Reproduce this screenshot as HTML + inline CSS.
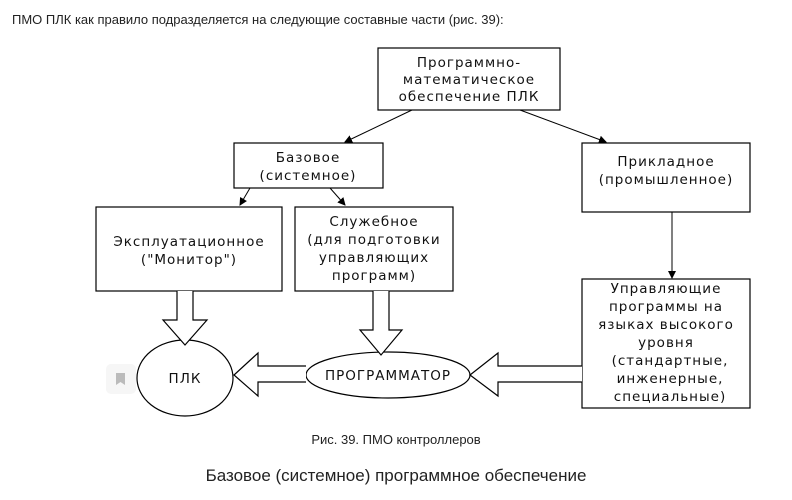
<!DOCTYPE html>
<html><head><meta charset="utf-8"><style>
body{margin:0;width:792px;height:500px;background:#fff;overflow:hidden;font-family:"Liberation Sans",sans-serif;}
.t{position:absolute;color:#222;}
</style></head><body>
<div class="t" style="left:12px;top:12px;font-size:13px;">ПМО ПЛК как правило подразделяется на следующие составные части (рис. 39):</div>
<svg width="792" height="500" style="position:absolute;left:0;top:0" font-family="DejaVu Sans, sans-serif" font-size="13.5" letter-spacing="1">
<defs><marker id="a" markerWidth="8" markerHeight="8" refX="7" refY="4" orient="auto"><path d="M0,0 L8,4 L0,8 z" fill="#000"/></marker></defs>
<g fill="#fff" stroke="#000" stroke-width="1.2">
<rect x="378" y="48" width="182" height="62"/>
<rect x="234" y="143" width="149" height="45"/>
<rect x="582" y="143" width="168" height="69"/>
<rect x="96" y="207" width="186" height="84"/>
<rect x="295" y="207" width="158" height="84"/>
<rect x="582" y="279" width="168" height="129"/>
<ellipse cx="185" cy="378" rx="48" ry="38"/>
<ellipse cx="388" cy="375" rx="82" ry="23"/>
<path d="M177,291 V320 H163 L185,345 L207,320 H193 V291"/>
<path d="M373,291 V330 H360 L381,355 L402,330 H389 V291"/>
<path d="M582,366 H498 V353 L470,375 L498,396 V382 H582"/>
<path d="M306,366 H258 V353 L234,375 L258,396 V382 H306"/>
</g>
<g stroke="#000" stroke-width="1" marker-end="url(#a)">
<line x1="412" y1="110" x2="345" y2="142"/>
<line x1="520" y1="110" x2="606" y2="142"/>
<line x1="250" y1="188" x2="240" y2="205"/>
<line x1="330" y1="188" x2="345" y2="205"/>
<line x1="672" y1="212" x2="672" y2="278"/>
</g>
<rect x="106" y="364" width="30" height="30" rx="5" fill="#f6f6f6"/>
<path d="M116,373 h9 v12 l-4.5,-3 l-4.5,3 z" fill="#bbb"/>
<g text-anchor="middle" fill="#111">
<text x="469" y="67">Программно-</text>
<text x="469" y="84">математическое</text>
<text x="469" y="101">обеспечение ПЛК</text>
<text x="308" y="162">Базовое</text>
<text x="308" y="180">(системное)</text>
<text x="666" y="166">Прикладное</text>
<text x="666" y="184">(промышленное)</text>
<text x="189" y="246">Эксплуатационное</text>
<text x="189" y="264">("Монитор")</text>
<text x="374" y="226">Служебное</text>
<text x="374" y="244">(для подготовки</text>
<text x="374" y="262">управляющих</text>
<text x="374" y="280">программ)</text>
<text x="666" y="293">Управляющие</text>
<text x="666" y="311">программы на</text>
<text x="666" y="329">языках высокого</text>
<text x="666" y="347">уровня</text>
<text x="670" y="365">(стандартные,</text>
<text x="670" y="383">инженерные,</text>
<text x="670" y="401">специальные)</text>
<text x="185" y="383">ПЛК</text>
<text x="388" y="380">ПРОГРАММАТОР</text>
</g>
</svg>
<div class="t" style="left:0;width:792px;text-align:center;top:432px;font-size:13px;">Рис. 39. ПМО контроллеров</div>
<div class="t" style="left:0;width:792px;text-align:center;top:466px;font-size:17px;">Базовое (системное) программное обеспечение</div>
</body></html>
